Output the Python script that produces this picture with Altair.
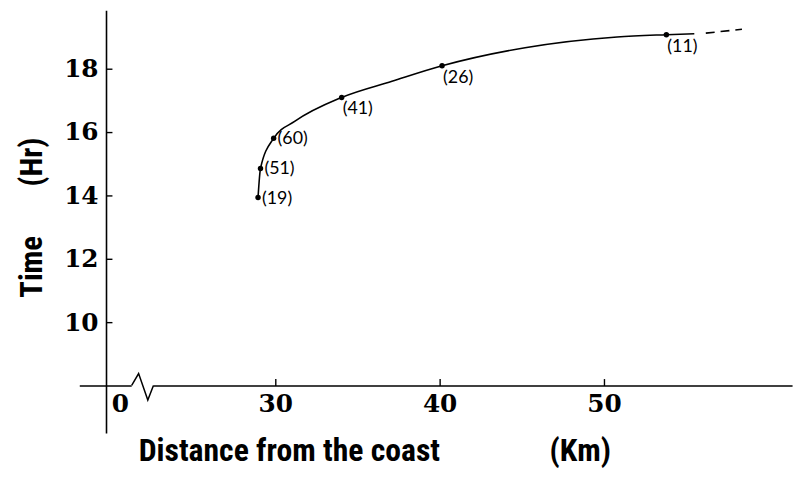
import altair as alt
import pandas as pd

# observed points (distance km, time hr, count)
point_km = [28.95, 29.1, 29.9, 34.04, 40.15, 53.8]
point_hr = [13.93, 14.85, 15.80, 17.09, 18.09, 19.07]
point_n = [19, 51, 60, 41, 26, 11]
label_place = ["side", "side", "side", "below", "below", "below"]

# curve traced through the points
curve_km = [28.95, 29.1, 29.9, 31.2, 34.04, 37.1, 40.15, 45.2, 50.8, 53.8, 55.5]
curve_hr = [13.93, 14.85, 15.80, 16.34, 17.09, 17.6, 18.09, 18.66, 19.0, 19.07, 19.10]

# dashed extrapolation
dash_km = [56.2, 58.4]
dash_hr = [19.12, 19.24]

# axis break zigzag
break_km = [2.71, 4.29, 6.39, 7.68]
break_hr = [8.0, 8.375, 7.54, 8.0]

x_ticks = [0, 30, 40, 50]
x_minor = [30, 40, 50]
y_ticks = [10, 12, 14, 16, 18]

NB = "\u00a0"
TITLE_FONT = "Roboto Condensed, Roboto, sans-serif"
LABEL_FONT = "DejaVu Serif"

# broken axis: compressed segment up to 28 km, then regular scale
xs = alt.Scale(domain=[-9.26, 28, 61.45], range=[0, 164.8, 720], nice=False, zero=False)
ys = alt.Scale(domain=[6.5, 19.84], nice=False, zero=False)

curve_df = pd.DataFrame({"km": curve_km, "hr": curve_hr})
pts_df = pd.DataFrame({"km": point_km, "hr": point_hr,
                       "lab": [f"({n})" for n in point_n], "place": label_place})
dash_df = pd.DataFrame({"km": dash_km, "hr": dash_hr})
brk_df = pd.DataFrame({"km": break_km, "hr": break_hr})
mask_df = pd.DataFrame({"km": [break_km[0]], "km2": [break_km[-1]], "hr": [8.0]})

x_main_axis = alt.Axis(
    orient="bottom", offset=-48, values=x_ticks, ticks=False, grid=False,
    domainColor="black", domainWidth=1.6, labelFont=LABEL_FONT, labelFontSize=25,
    labelFontWeight="bold", labelColor="black", labelPadding=6, labelFlush=False,
    labelOverlap=False,
    title="Distance from the coast" + NB * 15 + "(Km)", titleFont=TITLE_FONT,
    titleFontSize=32, titleFontWeight="bold", titleColor="black",
    titleX=298, titleY=66, titleAlign="center", titleBaseline="middle", titleAngle=0)
y_main_axis = alt.Axis(
    orient="left", offset=-27, values=y_ticks, ticks=False, grid=False,
    domainColor="black", domainWidth=1.6, labelFont=LABEL_FONT, labelFontSize=25,
    labelFontWeight="bold", labelColor="black", labelPadding=8, labelFlush=False,
    labelOverlap=False,
    title="Time" + NB * 7 + "(Hr)", titleFont=TITLE_FONT, titleFontSize=31,
    titleFontWeight="bold", titleColor="black", titleX=-74, titleY=209,
    titleAngle=270, titleAlign="center", titleBaseline="middle")
x_tick_axis = alt.Axis(
    orient="top", offset=-379, values=x_minor, ticks=True, tickSize=7,
    tickColor="black", tickWidth=1.4, labels=False, domain=False, grid=False, title=None)
y_tick_axis = alt.Axis(
    orient="right", offset=-693, values=y_ticks, ticks=True, tickSize=6,
    tickColor="black", tickWidth=1.4, labels=False, domain=False, grid=False, title=None)

curve = alt.Chart(curve_df).mark_line(color="black", strokeWidth=1.6, interpolate="monotone").encode(
    x=alt.X("km:Q", scale=xs, axis=x_main_axis),
    y=alt.Y("hr:Q", scale=ys, axis=y_main_axis))

points = alt.Chart(pts_df).mark_circle(color="black", size=30, opacity=1).encode(
    x=alt.X("km:Q", scale=xs, axis=x_tick_axis),
    y=alt.Y("hr:Q", scale=ys, axis=y_tick_axis))

dash = alt.Chart(dash_df).mark_line(color="black", strokeWidth=1.6, strokeDash=[9, 6]).encode(
    x=alt.X("km:Q", scale=xs, axis=None),
    y=alt.Y("hr:Q", scale=ys, axis=None))

mask = alt.Chart(mask_df).mark_rule(color="white", strokeWidth=4).encode(
    x=alt.X("km:Q", scale=xs, axis=None), x2="km2:Q",
    y=alt.Y("hr:Q", scale=ys, axis=None))

brk = alt.Chart(brk_df).mark_line(color="black", strokeWidth=1.5).encode(
    x=alt.X("km:Q", scale=xs, axis=None),
    y=alt.Y("hr:Q", scale=ys, axis=None))

side_lab = alt.Chart(pts_df).transform_filter(alt.datum.place == "side").mark_text(
    align="left", baseline="middle", dx=4, dy=1, font="Lato", fontSize=18, color="black").encode(
    x=alt.X("km:Q", scale=xs, axis=None),
    y=alt.Y("hr:Q", scale=ys, axis=None), text="lab:N")

below_lab = alt.Chart(pts_df).transform_filter(alt.datum.place == "below").mark_text(
    align="left", baseline="middle", dx=1, dy=12, font="Lato", fontSize=18, color="black").encode(
    x=alt.X("km:Q", scale=xs, axis=None),
    y=alt.Y("hr:Q", scale=ys, axis=None), text="lab:N")

chart = alt.layer(mask, brk, curve, dash, points, side_lab, below_lab).resolve_axis(
    x="independent", y="independent"
).properties(
    width=720, height=427,
    autosize=alt.AutoSizeParams(type="none"),
    padding={"left": 72, "top": 0, "right": 7, "bottom": 33},
).configure_view(stroke=None)

chart.save("out.html", embed_options={"renderer": "svg", "actions": False})
